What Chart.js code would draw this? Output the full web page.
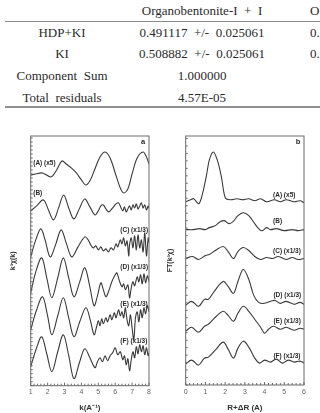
<!DOCTYPE html>
<html><head><meta charset="utf-8">
<script src="https://cdn.jsdelivr.net/npm/chart.js@4.4.1/dist/chart.umd.min.js"></script>
<style>
html,body{margin:0;padding:0;background:#fff;width:320px;height:413px;overflow:hidden;position:relative;}
.t{position:absolute;font-family:'Liberation Serif','Times New Roman',serif;font-size:13px;color:#2a2a2a;white-space:pre;line-height:14px;}
.c{text-align:center;width:200px;}
.rule{position:absolute;background:#8a8a8a;}
canvas{position:absolute;}
</style></head><body>
<div class="t c" style="left:102px;top:4px;">Organobentonite-I  +  I</div>
<div class="t" style="left:310px;top:4px;">O</div>
<div class="rule" style="left:5px;top:21px;width:315px;height:1px;"></div>
<div class="t c" style="left:-38px;top:26px;">HDP+KI</div>
<div class="t c" style="left:102px;top:26px;">0.491117  +/-  0.025061</div>
<div class="t" style="left:310px;top:26px;">0.</div>
<div class="t c" style="left:-38px;top:47px;">KI</div>
<div class="t c" style="left:102px;top:47px;">0.508882  +/-  0.025061</div>
<div class="t" style="left:310px;top:47px;">0.</div>
<div class="t c" style="left:-38px;top:69px;">Component  Sum</div>
<div class="t c" style="left:102px;top:69px;">1.000000</div>
<div class="t c" style="left:-38px;top:91px;">Total  residuals</div>
<div class="t c" style="left:102px;top:91px;">4.57E-05</div>
<div class="rule" style="left:5px;top:106px;width:315px;height:2px;background:#909090;"></div>

<canvas id="ca" width="160" height="288" style="left:0;top:125px;"></canvas>
<canvas id="cb" width="160" height="288" style="left:160px;top:125px;"></canvas>
<script>
// ---- Panel a: k^3 chi(k) spectra (stacked, arbitrary units) ----
const kTicks = [1,2,3,4,5,6,7,8];
const kA = [1.0,1.3,1.7,2.2,2.5,2.85,3.1,3.4,3.7,4.0,4.25,4.5,4.8,5.1,5.4,5.7,6.0,6.3,6.5,6.75,7.0,7.3,7.65,7.85,8.0];
const chiA = [211,212,213,209,215,225,222,218,213,206,201,205,217,229,234,228,213,198,193,197,212,228,234,229,222];
const kB = [1.0,1.35,1.75,2.05,2.35,2.65,2.95,3.25,3.55,3.9,4.2,4.5,4.8,5.0,5.15,5.3,5.45,5.6,5.75,5.9,6.05,6.2,6.35,6.45,6.55,6.65,6.75,6.85,6.95,7.05,7.15,7.25,7.35,7.45,7.55,7.65,7.75,7.85,7.95,8.0];
const chiB = [175,180,186,176,166,178,191,178,167,178,187,179,171,175,180,181,177,174,176,179,182,183,178,175,179,174,177,180,176,181,178,182,177,180,183,178,181,176,180,178];
const kC = [1.0,1.3,1.6,1.85,2.15,2.45,2.8,3.1,3.43,3.8,4.2,4.4,4.55,4.7,4.85,5.0,5.15,5.3,5.45,5.6,5.75,5.9,6.05,6.15,6.3,6.4,6.5,6.6,6.7,6.8,6.85,6.95,7.05,7.15,7.25,7.35,7.45,7.55,7.65,7.75,7.85,7.95,8.0];
const chiC = [129,146,157,146,129,140,156,143,129,139,149,146,141,138,140,136,139,135,137,134,138,136,142,139,146,142,148,140,145,130,141,148,138,150,136,151,138,146,134,153,130,148,143];
const kD = [1.0,1.3,1.65,1.95,2.25,2.6,2.93,3.25,3.56,3.9,4.2,4.5,4.75,4.95,5.15,5.3,5.45,5.6,5.8,6.0,6.1,6.25,6.4,6.5,6.6,6.75,6.85,6.95,7.05,7.15,7.3,7.4,7.5,7.6,7.7,7.8,7.9,8.0];
const chiD = [93,114,128,108,88,108,128,108,89,104,118,99,80,90,103,96,89,94,104,111,113,105,99,102,96,101,88,98,104,100,109,104,111,102,112,103,110,104];
const kE = [1.0,1.35,1.7,2.0,2.25,2.6,2.93,3.25,3.56,3.9,4.27,4.55,4.75,4.9,5.0,5.1,5.2,5.3,5.45,5.55,5.7,5.8,5.95,6.05,6.2,6.3,6.4,6.5,6.6,6.7,6.8,6.9,7.0,7.1,7.2,7.3,7.4,7.5,7.6,7.7,7.8,7.9,8.0];
const chiE = [56,76,89,70,51,70,88,68,49,64,78,64,51,59,65,60,67,62,68,64,71,66,73,68,76,70,74,68,78,66,60,71,58,46,68,74,64,76,68,78,72,80,74];
const kF = [1.0,1.35,1.65,1.95,2.25,2.6,2.93,3.25,3.56,3.9,4.2,4.5,4.8,4.95,5.1,5.25,5.4,5.55,5.7,5.85,6.0,6.15,6.3,6.45,6.55,6.65,6.75,6.85,6.95,7.05,7.15,7.25,7.35,7.45,7.55,7.65,7.75,7.85,7.95,8.0];
const chiF = [19,38,49,32,14,34,51,30,7,24,37,28,18,24,28,24,30,25,30,33,38,31,34,26,30,21,27,15,26,34,28,39,32,41,34,40,31,38,30,33];
const labelTextA = ['(A) (x5)','(B)','(C) (x1/3)','(D) (x1/3)','(E) (x1/3)','(F) (x1/3)'];
const labelKA = [1.15,1.15,6.3,6.3,6.3,6.3];
const labelVA = [223,193,156,119,82,45];

// ---- Panel b: FT magnitude (stacked, arbitrary units) ----
const rTicks = [0,1,2,3,4,5,6];
const rA = [0,0.25,0.4,0.65,0.75,0.9,1.05,1.2,1.4,1.6,1.8,1.95,2.05,2.3,2.6,2.9,3.2,3.5,3.8,4.1,4.5,4.8,5.1,5.5,5.8,6.0];
const ftA = [184,186,187,182,185,196,210,226,234,226,210,192,187,186,187,186,187,185,187,184,186,184,186,184,185,183];
const rB = [0,0.4,0.7,1.0,1.2,1.5,1.75,1.95,2.2,2.4,2.65,2.92,3.2,3.5,3.75,3.9,4.1,4.3,4.6,5.0,5.4,5.7,6.0];
const ftB = [156,156,157,156,158,160,164,165,162,164,170,173,170,162,156,155,158,156,157,155,156,155,156];
const rC = [0,0.35,0.65,1.0,1.2,1.5,1.9,2.15,2.42,2.65,2.92,3.2,3.5,3.8,4.1,4.4,4.7,5.1,5.4,5.7,6.0];
const ftC = [127,129,126,130,131,135,139,134,127,134,138,135,129,126,128,127,129,126,128,126,127];
const rD = [0,0.3,0.65,0.95,1.15,1.45,1.9,2.15,2.42,2.65,2.92,3.2,3.45,3.7,4.0,4.5,4.8,5.1,5.5,5.8,6.0];
const ftD = [80,84,79,86,86,94,104,99,92,104,116,106,90,83,82,85,82,84,81,83,81];
const rE = [0,0.3,0.65,0.95,1.15,1.5,1.9,2.15,2.42,2.65,2.92,3.2,3.5,3.8,4.0,4.2,4.45,4.8,5.1,5.5,5.8,6.0];
const ftE = [54,58,53,59,61,68,74,70,64,72,79,74,66,58,52,56,59,56,58,55,57,56];
const rF = [0,0.3,0.65,0.95,1.15,1.5,1.9,2.15,2.42,2.65,2.92,3.2,3.5,3.75,4.0,4.3,4.6,4.9,5.2,5.5,5.8,6.0];
const ftF = [21,25,20,27,28,35,43,36,27,37,44,38,27,22,25,23,26,22,25,23,24,22];
const labelTextB = ['(A) (x5)','(B)','(C) (x1/3)','(D) (x1/3)','(E) (x1/3)','(F) (x1/3)'];
const labelRB = [4.43,4.43,4.43,4.45,4.45,4.45];
const labelVB = [191,164,134,90,64,29];

const LINE = '#3a3a3a';
function pts(xs, ys){ return xs.map((x,i)=>({x:x,y:ys[i]})); }
function ds(xs, ys){ return {data:pts(xs,ys), borderColor:LINE, borderWidth:1.1, pointRadius:0, tension:0.35, fill:false}; }

const decor = {
  id:'decor',
  afterDatasetsDraw(chart, args, o){
    const {ctx, chartArea:a, scales:{x,y}} = chart;
    ctx.save();
    ctx.strokeStyle='#6a6a6a'; ctx.lineWidth=1;
    ctx.strokeRect(a.left, a.top, a.right-a.left, a.bottom-a.top);
    ctx.beginPath();
    for(let v=x.min; v<=x.max+1e-9; v+=o.xStep){
      const px=x.getPixelForValue(v);
      const major=Math.abs(v-Math.round(v))<1e-6;
      ctx.moveTo(px,a.bottom); ctx.lineTo(px,a.bottom-(major?3:2));
    }
    for(let v=y.min; v<=y.max+1e-9; v+=o.yStep){
      const py=y.getPixelForValue(v);
      ctx.moveTo(a.left,py); ctx.lineTo(a.left+2,py);
    }
    ctx.stroke();
    ctx.fillStyle='#2a2a2a';
    ctx.font='bold 6.5px "Liberation Sans", Arial, sans-serif';
    ctx.textBaseline='middle'; ctx.textAlign='left';
    o.texts.forEach((t,i)=>ctx.fillText(t, x.getPixelForValue(o.lx[i]), y.getPixelForValue(o.ly[i])));
    ctx.font='bold 7.5px "Liberation Sans", Arial, sans-serif';
    ctx.textAlign='center';
    ctx.fillText(o.letter, a.right-6, a.top+5.5);
    ctx.restore();
  }
};

function makeChart(id, sets, xmin, xmax, ticks, xTitle, yTitle, yTitlePad, yW, xH, padR, opts){
  return new Chart(document.getElementById(id), {
    type:'line',
    data:{datasets:sets},
    options:{
      responsive:false, animation:false, events:[],
      layout:{padding:{left:0,right:padR,top:11,bottom:0}},
      plugins:{legend:{display:false}, tooltip:{enabled:false}, decor:opts},
      scales:{
        x:{type:'linear', min:xmin, max:xmax,
           afterBuildTicks:(s)=>{ s.ticks = ticks.map(v=>({value:v})); },
           ticks:{font:{family:'"Liberation Sans", Arial, sans-serif', size:7}, color:'#666', padding:2.5, maxRotation:0},
           grid:{display:false, drawTicks:false}, border:{display:false},
           title:{display:true, text:xTitle, color:'#333', font:{family:'"Liberation Sans", Arial, sans-serif', size:8, weight:'bold'}, padding:{top:0,bottom:0.5}},
           afterFit:(s)=>{ s.height = xH; }},
        y:{type:'linear', min:0, max:250,
           ticks:{display:false}, grid:{display:false, drawTicks:false}, border:{display:false},
           title:{display:true, text:yTitle, color:'#333', font:{family:'"Liberation Sans", Arial, sans-serif', size:7, weight:'bold'}, padding:{top:yTitlePad,bottom:0}},
           afterFit:(s)=>{ s.width = yW; }}
      }
    },
    plugins:[decor]
  });
}

makeChart('ca', [ds(kA,chiA),ds(kB,chiB),ds(kC,chiC),ds(kD,chiD),ds(kE,chiE),ds(kF,chiF)],
  1, 8, kTicks, 'k(A\u207B\u00B9)', 'k\u00B3\u03C7(k)', 8.8, 30.7, 27.3, 11,
  {xStep:0.2, yStep:4, texts:labelTextA, lx:labelKA, ly:labelVA, letter:'a'});
makeChart('cb', [ds(rA,ftA),ds(rB,ftB),ds(rC,ftC),ds(rD,ftD),ds(rE,ftE),ds(rF,ftF)],
  0, 6, rTicks, 'R+\u0394R (A)', 'FT(k\u00B3\u03C7)', 5.8, 25.7, 28, 16,
  {xStep:0.2, yStep:7.5, texts:labelTextB, lx:labelRB, ly:labelVB, letter:'b'});
</script>
</body></html>
